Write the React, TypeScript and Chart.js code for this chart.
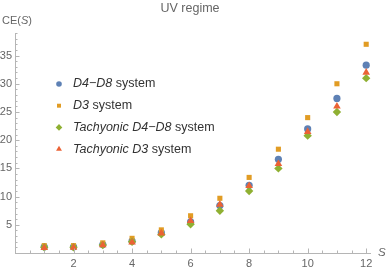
import React, { useEffect, useRef } from "react";
import { Chart, registerables } from "chart.js";

Chart.register(...registerables);

const sValues = [1, 2, 3, 4, 5, 6, 7, 8, 9, 10, 11, 12];
const d4d8 = [1.1, 1.1, 1.5, 2.1, 3.6, 5.5, 8.4, 12.0, 16.6, 22.0, 27.4, 33.3];
const d3 = [1.3, 1.3, 1.8, 2.6, 4.1, 6.6, 9.7, 13.4, 18.4, 24.0, 30.0, 37.0];
const tachD4D8 = [1.0, 1.0, 1.4, 2.0, 3.3, 5.1, 7.5, 11.0, 15.0, 20.8, 25.0, 31.0];
const tachD3 = [0.9, 0.95, 1.4, 1.9, 3.5, 5.7, 8.6, 11.9, 15.8, 21.5, 26.0, 32.0];

const xTicks = [2, 4, 6, 8, 10, 12];
const yTicks = [5, 10, 15, 20, 25, 30, 35];

const legendItalic = ["D4\u2212D8", "D3", "Tachyonic D4\u2212D8", "Tachyonic D3"];
const legendPlain = [" system", " system", " system", " system"];
const titleText = "UV regime";

const colors = ["#5E81B5", "#E19C24", "#8FB032", "#EB6235"];
const styles = ["circle", "rect", "rectRot", "triangle"];
const radii = [3.6, 3.6, 4.2, 4.4];
const seriesList = [d4d8, d3, tachD4D8, tachD3];

const FONT = "'Liberation Sans', Arial, sans-serif";
const axisColor = "#b5b5b5";
const textColor = "#666666";

function drawMarker(ctx: CanvasRenderingContext2D, style: string, x: number, y: number, r: number, color: string) {
  ctx.fillStyle = color;
  ctx.beginPath();
  if (style === "circle") {
    ctx.arc(x, y, r, 0, Math.PI * 2);
  } else if (style === "rect") {
    const s = r * Math.SQRT1_2;
    ctx.rect(x - s, y - s, 2 * s, 2 * s);
  } else if (style === "rectRot") {
    ctx.moveTo(x, y - r);
    ctx.lineTo(x + r, y);
    ctx.lineTo(x, y + r);
    ctx.lineTo(x - r, y);
    ctx.closePath();
  } else {
    const a = (2 * Math.PI) / 3;
    ctx.moveTo(x, y - r);
    ctx.lineTo(x + Math.sin(a) * r, y - Math.cos(a) * r);
    ctx.lineTo(x - Math.sin(a) * r, y - Math.cos(a) * r);
    ctx.closePath();
  }
  ctx.fill();
}

const decorPlugin = {
  id: "decor",
  afterDraw(chart: any) {
    const ctx: CanvasRenderingContext2D = chart.ctx;
    const xs = chart.scales.x;
    const ys = chart.scales.y;
    const area = chart.chartArea;
    ctx.save();
    ctx.strokeStyle = axisColor;
    ctx.lineWidth = 1;
    // inward ticks on x
    for (let i = 1; i * 0.5 <= xs.max + 1e-9; i++) {
      const v = i * 0.5;
      const major = i % 4 === 0;
      const px = Math.round(xs.getPixelForValue(v)) + 0.5;
      ctx.beginPath();
      ctx.moveTo(px, area.bottom);
      ctx.lineTo(px, area.bottom - (major ? 4.5 : 2.5));
      ctx.stroke();
    }
    // inward ticks on y
    for (let v = 1; v <= ys.max + 1e-9; v++) {
      const major = v % 5 === 0;
      const py = Math.round(ys.getPixelForValue(v)) + 0.5;
      ctx.beginPath();
      ctx.moveTo(area.left, py);
      ctx.lineTo(area.left + (major ? 4.5 : 2.5), py);
      ctx.stroke();
    }

    ctx.textBaseline = "middle";
    // title
    ctx.fillStyle = textColor;
    ctx.font = `12.5px ${FONT}`;
    ctx.textAlign = "center";
    ctx.fillText(titleText, 190, 9);

    // axis labels
    ctx.textAlign = "left";
    let x = 2;
    const yl = 21;
    ctx.font = `11px ${FONT}`;
    ctx.fillText("CE(", x, yl);
    x += ctx.measureText("CE(").width;
    ctx.font = `italic 11px ${FONT}`;
    ctx.fillText("S", x, yl);
    x += ctx.measureText("S").width;
    ctx.font = `11px ${FONT}`;
    ctx.fillText(")", x, yl);

    ctx.font = `italic 11.5px ${FONT}`;
    ctx.fillText("S", 378, 253);

    // legend
    for (let i = 0; i < legendItalic.length; i++) {
      const ly = 84 + i * 21.7;
      const lr = [2.8, 2.8, 3.3, 3.4][i];
      drawMarker(ctx, styles[i], 59, ly, lr, colors[i]);
      ctx.fillStyle = "#333333";
      ctx.font = `italic 12.5px ${FONT}`;
      ctx.fillText(legendItalic[i], 73, ly);
      const w = ctx.measureText(legendItalic[i]).width;
      ctx.font = `12.5px ${FONT}`;
      ctx.fillText(legendPlain[i], 73 + w, ly);
    }
    ctx.restore();
  },
};

export default function App() {
  const ref = useRef<HTMLCanvasElement | null>(null);
  useEffect(() => {
    if (!ref.current) return;
    const datasets = seriesList.map((arr, i) => ({
      label: legendItalic[i] + legendPlain[i],
      data: sValues.map((s, k) => ({ x: s, y: arr[k] })),
      pointStyle: styles[i],
      pointRadius: radii[i],
      pointBackgroundColor: colors[i],
      pointBorderWidth: 0,
      backgroundColor: colors[i],
      borderColor: colors[i],
      showLine: false,
      order: 3 - i,
      clip: false,
    }));
    const chart = new Chart(ref.current, {
      type: "scatter",
      data: { datasets } as any,
      options: {
        animation: false,
        responsive: false,
        maintainAspectRatio: false,
        layout: { padding: { left: 0, right: 18, top: 33, bottom: 0 } },
        plugins: {
          legend: { display: false },
          tooltip: { enabled: false },
          title: { display: false },
        },
        scales: {
          x: {
            type: "linear",
            min: 0,
            max: 12.13,
            grid: { display: false, drawTicks: false },
            border: { display: true, color: axisColor, width: 1 },
            ticks: { font: { family: FONT, size: 11 }, color: textColor, padding: 4 },
            afterBuildTicks: (s: any) => {
              s.ticks = xTicks.map((v) => ({ value: v }));
            },
            afterFit: (s: any) => {
              s.height = 17;
            },
          },
          y: {
            type: "linear",
            min: 0,
            max: 39,
            grid: { display: false, drawTicks: false },
            border: { display: true, color: axisColor, width: 1 },
            ticks: { font: { family: FONT, size: 11 }, color: textColor, padding: 3 },
            afterBuildTicks: (s: any) => {
              s.ticks = yTicks.map((v) => ({ value: v }));
            },
            afterFit: (s: any) => {
              s.width = 15;
            },
          },
        },
      } as any,
      plugins: [decorPlugin],
    });
    return () => chart.destroy();
  }, []);
  return (
    <div style={{ position: "fixed", left: 0, top: 0, width: 388, height: 270, background: "#fff" }}>
      <canvas ref={ref} width={388} height={270} style={{ width: 388, height: 270, display: "block" }} />
    </div>
  );
}
